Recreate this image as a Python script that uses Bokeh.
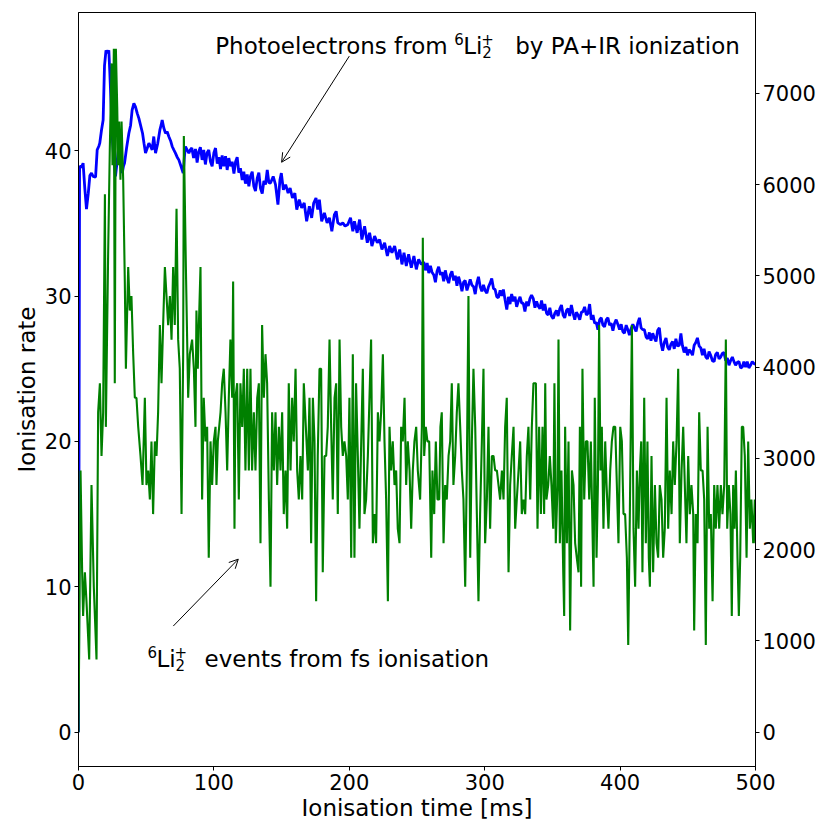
from bokeh.plotting import figure
from bokeh.models import Range1d, LinearAxis, Label, Arrow, OpenHead, FixedTicker
from bokeh.embed import file_html
from bokeh.resources import INLINE

# ---------------- data ----------------
# fs-ionisation 6Li2+ events (left axis), time in ms
green_t = [0, 1.5, 2.7, 3.4, 4.7, 5.9, 7.9, 9.6, 11.3, 13.3,
           14.5, 15.8, 17.0, 18.2, 19.5, 20.2, 21.9, 23.1, 24.4, 25.1,
           26.1, 26.8, 27.6, 28.6, 29.3, 30.0, 31.0, 31.8, 33.0, 34.2,
           35.0, 36.7, 37.9, 39.1, 40.4, 41.6, 42.8, 44.1, 45.8, 47.3,
           49.0, 50.2, 51.5, 52.7, 53.9, 55.1, 56.4, 57.6, 58.8, 60.1,
           61.3, 62.5, 63.8, 65.0, 66.2, 67.5, 68.7, 69.9, 71.1, 72.4,
           73.6, 74.8, 76.1, 77.3, 77.8, 79.3, 81.0, 82.2,
           83.9, 85.2, 86.4, 87.1, 88.1, 88.9, 90.1, 91.3, 92.5, 93.8,
           95.0, 96.2, 97.5, 98.7, 99.9, 101.2, 101.9, 102.9, 104.9, 106.1,
           107.3, 108.6, 109.8, 111.0, 112.2, 113.5, 114.2, 115.2, 115.9, 117.2,
           118.4, 119.6, 120.9, 122.1, 123.3, 124.6, 125.8, 127.0, 128.2, 129.5,
           130.7, 132.0, 133.2, 134.4, 135.6, 136.9, 138.1, 139.3, 140.6, 141.8,
           143.0, 144.3, 145.5, 146.7, 148.0, 149.2, 150.4, 151.6, 152.9, 154.1,
           155.3, 156.6, 157.8, 159.0, 160.3, 161.5, 162.7, 163.9, 165.2, 166.4,
           169.4, 170.6, 171.8, 173.1, 174.3, 175.5, 176.7, 178.0, 179.2, 180.4,
           181.7, 182.9, 184.1, 185.4, 186.6, 187.8, 189.1, 190.3, 191.5, 192.8,
           194.0, 195.2, 196.4, 197.7, 198.9, 200.1, 201.4, 202.6, 203.8, 205.0,
           206.3, 207.5, 208.8, 210.0, 211.2, 212.4, 213.7, 214.9, 216.1, 217.4,
           218.6, 219.8, 221.1, 222.3, 223.5, 224.8, 226.0, 227.2, 228.5, 229.7,
           230.9, 232.1, 233.4, 234.6, 235.8, 237.1, 238.3, 239.5, 240.8, 242.0,
           243.2, 244.5, 245.7, 246.9, 248.1, 249.4, 250.6,
           252.3, 253.6, 254.3, 255.3, 256.5, 257.7, 259.0, 260.5, 261.4, 262.7,
           263.9, 265.1, 266.4, 267.3, 268.3, 269.6, 270.8, 272.0, 273.3, 274.5,
           275.7, 276.9, 278.2, 279.4, 280.6, 281.9, 283.1, 284.3, 285.6, 286.8,
           288.0, 289.3, 290.5, 291.7, 293.0, 294.2, 295.4, 296.6, 297.9, 299.1,
           300.3, 301.6, 302.8, 304.0, 305.3, 306.5, 307.7, 309.0, 310.2, 311.4,
           312.7, 313.9, 315.1, 316.3, 317.6, 318.8, 320.0, 321.3, 322.5, 323.7,
           325.0, 326.2, 327.4, 328.7, 329.9, 331.1, 332.3, 333.6, 334.8, 336.0,
           337.8, 339.0, 340.2, 341.5, 342.7, 343.9, 344.7, 345.6, 346.9, 348.1,
           349.3, 350.6, 351.5, 352.5, 353.8, 354.5, 355.5, 356.7, 358.0, 358.7,
           359.4, 360.7, 361.9, 363.1, 364.4, 365.6, 366.8, 368.0, 369.3, 370.3,
           371.2, 372.2, 373.5, 374.7, 375.9, 377.2, 378.4, 379.6, 380.4, 381.3,
           382.6, 383.6, 384.5, 385.5, 386.5, 387.7, 389.0, 390.0, 391.4, 392.7,
           393.9, 395.1, 396.4, 397.6, 398.8, 400.1, 401.3, 402.5, 403.7, 405.0,
           406.0, 407.2, 408.7, 409.9, 411.1, 412.4, 413.6, 414.6, 415.6, 416.5,
           417.8, 419.0,
           420.2, 421.2, 422.0, 423.2, 424.4, 425.7, 426.9, 428.1, 429.3, 430.6,
           431.8, 433.0, 434.3, 435.5, 436.7, 438.0, 439.2, 440.4, 441.7, 442.9,
           444.1, 445.4, 446.6, 447.8, 449.0, 450.3, 451.5, 452.7, 454.0, 454.7,
           455.9, 457.2, 458.4, 459.6, 460.9, 462.1, 463.3, 464.6, 465.8, 467.0,
           468.3, 469.5, 470.7, 471.9, 473.2, 474.4, 475.6, 476.9, 478.1, 479.1,
           480.3, 481.5, 482.5, 483.5, 484.5, 485.5, 486.7, 487.7, 488.7, 489.9,
           490.9, 492.1, 493.4, 494.6, 495.8, 497.0, 498.3, 499.5, 500.0]
green_n = [0, 18, 11, 8, 11, 9, 5, 17, 10, 5,
           22, 24, 19, 22, 37, 21, 33, 40, 46, 39,
           47, 24, 47, 43, 39, 42, 38, 42, 38, 31,
           25, 32, 29, 30, 26, 23, 23, 21, 19, 17,
           23, 17, 18, 16, 20, 15, 20, 19, 22, 28,
           24, 28, 32, 30, 28, 30, 27, 32, 28, 36,
           27, 25, 15, 26, 41, 32, 23, 26,
           27, 25, 21, 29, 25, 28, 32, 16, 23, 20,
           21, 12, 20, 17, 20, 21, 17, 20, 22, 24,
           25, 22, 18, 23, 27, 23, 31, 14, 23, 24,
           16, 24, 21, 25, 18, 25, 18, 25, 18, 22,
           18, 23, 24, 13, 28, 23, 26, 24, 16, 10,
           22, 18, 22, 17, 21, 18, 22, 15, 18, 14,
           24, 18, 23, 20, 25, 18, 16, 19, 16, 24,
           18, 23, 13, 23, 20, 9, 19, 25, 25, 11,
           19, 19, 21, 27, 21, 16, 23, 24, 15, 27,
           21, 19, 20, 19, 16, 23, 12, 26, 12, 24,
           19, 14, 20, 25, 15, 16, 19, 23, 27, 13,
           15, 13, 22, 20, 22, 26, 20, 16, 9, 21,
           18, 20, 17, 18, 14, 13, 21, 20, 23, 17,
           20, 18, 14, 18, 20, 21, 18,
           16, 21, 34, 19, 21, 20, 20, 12, 18, 15,
           20, 16, 16, 21, 22, 13, 17, 16, 19, 20,
           24, 17, 19, 22, 24, 21, 18, 16, 10, 18,
           30, 12, 20, 25, 21, 15, 9, 15, 20, 25,
           13, 16, 21, 14, 19, 19, 18, 18, 17, 16,
           18, 16, 21, 23, 11, 17, 19, 21, 14, 16,
           18, 20, 15, 16, 15, 19, 21, 16, 21, 24,
           24, 14, 21, 15, 21, 15, 24, 16, 17, 19,
           17, 14, 24, 13, 17, 27, 13, 18, 11, 8,
           21, 13, 20, 7, 18, 17, 13, 12, 11, 21,
           10, 25, 16, 20, 20, 16, 20, 14, 10, 23,
           12, 17, 28, 18, 21, 14, 20, 17, 14, 18,
           20, 21, 21, 17, 13, 21, 20, 15, 15, 12,
           6, 15, 28, 14, 10, 18, 14, 18, 20, 11,
           23, 13,
           20, 12, 10, 19, 11, 17, 13, 12, 17, 16,
           12, 14, 23, 14, 18, 15, 20, 17, 20, 25,
           13, 18, 21, 17, 13, 19, 15, 17, 15, 7,
           15, 13, 22, 18, 18, 16, 6, 21, 14, 15,
           9, 17, 14, 17, 14, 17, 15, 17, 27, 14,
           17, 15, 8, 17, 14, 18, 12, 8, 12, 21,
           21, 19, 12, 20, 14, 16, 13, 16, 13]

# photoelectrons from PA+IR ionisation (right axis)
blue_t = [0, 0.8, 2.2, 3.4, 4.7, 5.9, 7.2, 8.4, 9.6, 10.8,
          12.6, 13.8, 15.0, 15.7, 17.0, 18.2, 19.2, 20.3, 21.3, 22.4,
          23.1, 24.0, 24.9, 26.0, 27.3, 28.5, 29.8, 31.0, 32.3, 33.2,
          34.0, 35.5, 37.2, 38.5, 39.6, 40.9, 42.1, 43.4, 44.6, 46.0,
          47.3, 48.4, 49.5, 50.8, 52.0, 53.2, 54.4, 55.6, 56.9, 58.5,
          60.1, 61.0, 61.8, 63.0, 64.3, 65.5, 66.7, 68.0, 69.2, 70.4,
          71.6, 72.9, 74.1, 75.7, 77.3, 78.2, 79.0, 80.2, 81.5, 82.5,
          83.7, 85.0, 86.4, 87.6, 88.8, 90.0, 91.3, 92.5, 93.7, 95.0,
          96.2, 97.5, 98.7, 100.0, 101.2, 102.5, 103.7, 104.9, 106.1, 107.3,
          108.6, 109.8, 111.0, 112.3, 113.5, 114.8, 116.0, 117.2, 118.4, 119.6,
          120.9, 122.1, 123.3, 124.6, 125.8, 127.0, 128.3, 129.5, 130.7, 132.0,
          133.2, 134.4, 135.7, 136.9, 138.1, 139.4, 140.6,
          141.8, 143.8, 145.5, 147.3, 148.8, 149.8, 151.3, 153.0, 154.8, 156.3,
          158.0, 159.8, 161.2, 163.0, 164.8, 166.7, 168.5, 170.5, 172.2, 173.7,
          175.4, 176.7, 177.9, 179.6, 181.6, 183.6, 185.3, 187.1, 189.0, 190.3,
          191.5, 193.5, 195.2, 196.9, 198.9, 200.9, 202.6, 203.8, 205.8, 207.6,
          209.3, 211.3, 213.3, 215.0, 216.7, 218.7, 220.7, 222.4, 224.1, 226.1,
          228.1, 229.8, 231.5, 233.5, 235.5, 237.2, 238.9, 240.4, 242.1, 243.8,
          245.8, 247.7, 249.5, 251.2, 253.2,
          255.0, 256.2, 257.5, 258.7, 259.9, 261.1, 262.4, 263.6, 264.8, 266.0,
          267.3, 268.5, 269.7, 270.9, 272.2, 273.4, 274.6, 275.8, 277.1, 278.3,
          279.5, 280.7, 282.0, 283.2, 284.4, 285.6, 286.9, 288.1, 289.3, 290.5,
          291.8, 293.0, 294.2, 295.4, 296.7, 297.9, 299.1, 300.3, 301.6, 302.8,
          304.0, 305.2, 306.5, 307.7, 308.9, 310.1, 311.4, 312.6, 313.8, 315.0,
          316.3, 317.5, 318.7, 319.9, 321.2, 322.4, 323.6, 324.8, 326.1, 327.3,
          328.5, 329.7, 331.0, 332.2, 333.4, 334.6,
          335.9, 337.1, 338.3, 339.5, 340.8, 342.0, 343.2, 344.4, 345.7, 346.9,
          348.1, 349.3, 350.6, 351.8, 353.0, 354.2, 355.5, 356.7, 357.9, 359.1,
          360.4, 361.6, 362.8, 364.0, 365.3, 366.5, 367.7, 368.9, 370.2, 371.4,
          372.6, 373.8, 375.1, 376.3, 377.5, 378.7, 380.0, 381.2, 382.4, 383.6,
          384.9, 386.1, 387.3, 388.5, 389.8, 391.0, 392.2, 393.4, 394.7, 395.9,
          397.1, 398.3, 399.6, 400.8, 402.0, 403.2, 404.5, 405.7, 406.9, 408.1,
          409.4, 410.6, 411.8, 413.0, 414.3, 415.5, 416.7, 417.9, 419.2,
          420.4, 421.6, 422.8, 424.1, 425.3, 426.5, 427.7, 429.0, 430.2, 431.4,
          432.6, 433.9, 435.1, 436.3, 437.5, 438.8, 440.0, 441.2, 442.4, 443.7,
          444.9, 446.1, 447.3, 448.6, 449.8, 451.0, 452.2, 453.5, 454.7, 455.9,
          457.1, 458.4, 459.6, 460.8, 462.0, 463.3, 464.5, 465.7, 466.9, 468.2,
          469.4, 470.6, 471.8, 473.1, 474.3, 475.5, 476.7, 478.0, 479.2, 480.4,
          481.6, 482.9, 484.1, 485.3, 486.5, 487.8, 489.0, 490.2, 491.4, 492.7,
          493.9, 495.1, 496.3, 497.6, 498.8, 500.0]
blue_n = [0, 6200, 6190, 6234, 5950, 5730, 5900, 6100, 6126, 6090,
          6082, 6380, 6420, 6453, 6598, 6707, 7300, 7470, 7440, 7470,
          7238, 6900, 6526, 6300, 6089, 6250, 6417, 6300, 6126, 6200,
          6235, 6400, 6562, 6650, 6816, 6889, 6852, 6780, 6725, 6640,
          6562, 6450, 6344, 6400, 6453, 6420, 6380, 6526, 6344, 6450,
          6598, 6650, 6707, 6620, 6562, 6580, 6526, 6480, 6417, 6380,
          6344, 6300, 6270, 6200, 6126, 6300, 6417, 6380, 6344, 6380,
          6400, 6290, 6390, 6240, 6360, 6410, 6270, 6380, 6220, 6350,
          6380, 6250, 6200, 6350, 6400, 6230, 6300, 6170, 6320, 6200,
          6310, 6160, 6290, 6200, 6250, 6120, 6250, 6300, 6130, 6180,
          6050, 6140, 6010, 6110, 5980, 6090, 6140, 5980, 5930, 6070,
          6130, 5960, 5900, 6040, 6000, 6160, 6020,
          6016, 6089, 6000, 5780, 6053, 6126, 5943, 5998, 5907, 5962,
          5853, 5907, 5725, 5834, 5744, 5798, 5598, 5762, 5635, 5798,
          5853, 5725, 5834, 5598, 5689, 5580, 5635, 5489, 5671, 5707,
          5580, 5562, 5580, 5544, 5562, 5635, 5489, 5598, 5471, 5616,
          5398, 5544, 5362, 5471, 5326, 5435, 5362, 5398, 5289, 5362,
          5217, 5326, 5253, 5326, 5180, 5289, 5125, 5253, 5107, 5235,
          5089, 5217, 5071, 5180, 5125,
          5150, 5060, 5140, 5030, 5110, 5040, 5010, 4930, 5050, 5100,
          5010, 5040, 4940, 5060, 4970, 4920, 5010, 5050, 4950, 5000,
          4890, 4990, 4920, 4830, 4930, 4950, 4840, 4900, 4960, 4900,
          4880, 4800, 4920, 4990, 4880, 4830, 4900, 4840, 4810, 4880,
          4920, 4970, 4860, 4850, 4770, 4760, 4840, 4780, 4850, 4740,
          4630, 4770, 4690, 4800, 4720, 4770, 4660, 4720, 4770, 4700,
          4700, 4610, 4720, 4670, 4750, 4790,
          4750, 4650, 4720, 4670, 4640, 4730, 4620, 4690, 4590, 4570,
          4650, 4560, 4530, 4590, 4620, 4560, 4640, 4680, 4570, 4540,
          4620, 4640, 4560, 4680, 4590, 4520, 4600, 4570, 4520, 4600,
          4610, 4660, 4570, 4590, 4690, 4520, 4570, 4480, 4490, 4410,
          4520, 4540, 4460, 4440, 4520, 4540, 4460, 4480, 4400, 4480,
          4520, 4470, 4410, 4470, 4390, 4370, 4460, 4410, 4350, 4420,
          4470, 4430, 4390, 4480, 4540, 4430, 4410, 4410, 4330,
          4310, 4380, 4290, 4370, 4320, 4280, 4400, 4430, 4260, 4180,
          4270, 4320, 4220, 4190, 4250, 4280, 4200, 4310, 4230, 4240,
          4370, 4230, 4160, 4220, 4130, 4190, 4170, 4130, 4240, 4270,
          4320, 4230, 4210, 4130, 4200, 4110, 4090, 4170, 4130, 4070,
          4060, 4140, 4160, 4090, 4110, 4150, 4160, 4070, 4100, 4020,
          4070, 4110, 4060, 4020, 4050, 4060, 3990, 4000, 4060, 4000,
          4060, 3990, 4020, 4060, 4040, 4030]

x_ticks = [0, 100, 200, 300, 400, 500]
left_ticks = [0, 10, 20, 30, 40]
right_ticks = [0, 1000, 2000, 3000, 4000, 5000, 6000, 7000]

assert len(green_t) == len(green_n), (len(green_t), len(green_n))
assert len(blue_t) == len(blue_n), (len(blue_t), len(blue_n))

FONT = "DejaVu Sans"

p = figure(width=825, height=823, output_backend="svg", toolbar_location=None,
           x_range=Range1d(0, 500), y_range=Range1d(-2.36, 49.5),
           min_border_left=78, min_border_right=70, min_border_top=12,
           min_border_bottom=57, background_fill_color="white",
           border_fill_color="white")
p.extra_y_ranges = {"right": Range1d(-376, 7885)}
p.xgrid.visible = False
p.ygrid.visible = False
p.outline_line_color = "black"
p.outline_line_width = 1

yr = LinearAxis(y_range_name="right")
p.add_layout(yr, "right")

for ax in [p.xaxis[0], p.yaxis[0], yr]:
    ax.major_label_text_font = FONT
    ax.major_label_text_font_size = "21px"
    ax.major_label_text_color = "black"
    ax.axis_line_color = "black"
    ax.major_tick_line_color = "black"
    ax.major_tick_out = 4
    ax.major_tick_in = 0
    ax.minor_tick_line_color = None
    ax.major_label_standoff = 3
    ax.axis_label_text_font = FONT
    ax.axis_label_text_font_size = "23px"
    ax.axis_label_text_font_style = "normal"
    ax.axis_label_text_color = "black"
    ax.axis_label_standoff = 2

p.xaxis[0].ticker = FixedTicker(ticks=x_ticks)
p.yaxis[0].ticker = FixedTicker(ticks=left_ticks)
yr.ticker = FixedTicker(ticks=right_ticks)
p.xaxis[0].axis_label = "Ionisation time [ms]"
p.yaxis[0].axis_label = "Ionisation rate"

p.line(blue_t, blue_n, y_range_name="right", line_color="#0000ff", line_width=2.8)
p.line(green_t, green_n, line_color="#008000", line_width=2.1)


def piece(x, y, text, dx, dy=0, size="23px"):
    p.add_layout(Label(x=x, y=y, x_offset=dx, y_offset=dy, text=text,
                       text_font=FONT, text_font_size=size, text_color="black",
                       text_baseline="alphabetic", text_align="left"))


# annotation 1 (photoelectrons)
ax1, ay1 = 101, 47.2
piece(ax1, ay1, "Photoelectrons from", 0)
piece(ax1, ay1, "6", 239, 7, "15px")
piece(ax1, ay1, "Li", 248)
piece(ax1, ay1, "2", 267, -6, "15px")
piece(ax1, ay1, "+", 266, 7, "15px")
piece(ax1, ay1, "by PA+IR ionization", 300)

# annotation 2 (fs events)
ax2, ay2 = 51, 5.0
piece(ax2, ay2, "6", 0, 7, "15px")
piece(ax2, ay2, "Li", 9)
piece(ax2, ay2, "2", 28, -6, "15px")
piece(ax2, ay2, "+", 27, 7, "15px")
piece(ax2, ay2, "events from fs ionisation", 57)

p.add_layout(Arrow(end=OpenHead(size=9, line_color="black", line_width=1),
                   x_start=200, y_start=46.5, x_end=150, y_end=39.2,
                   line_color="black", line_width=1))
p.add_layout(Arrow(end=OpenHead(size=9, line_color="black", line_width=1),
                   x_start=70, y_start=7.3, x_end=118, y_end=11.9,
                   line_color="black", line_width=1))

open("out.html", "w").write(file_html(p, INLINE))
